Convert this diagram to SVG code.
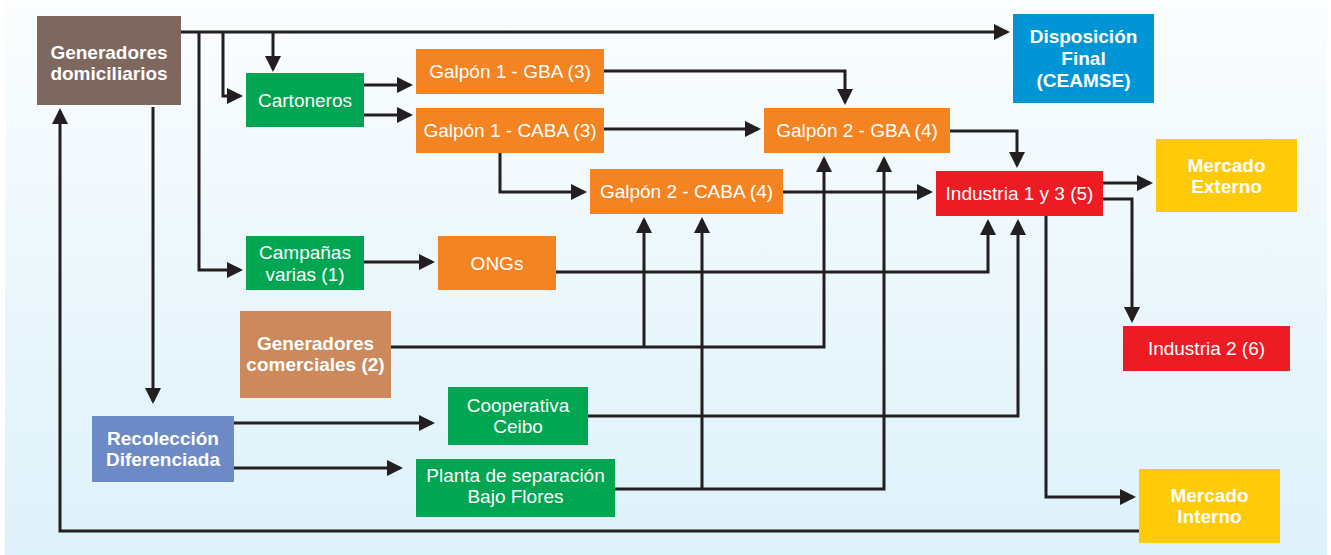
<svg xmlns="http://www.w3.org/2000/svg" width="1331" height="555" viewBox="0 0 1331 555">
<defs>
<linearGradient id="bg" x1="0" y1="0" x2="0" y2="1">
<stop offset="0" stop-color="#fbfdfe"/>
<stop offset="1" stop-color="#ddf1fa"/>
</linearGradient>
<marker id="ah" markerUnits="userSpaceOnUse" markerWidth="16" markerHeight="16" refX="13" refY="8" orient="auto">
<path d="M0,0 L16,8 L0,16 z" fill="#231f20"/>
</marker>
<style>
.c path{fill:none;stroke:#231f20;stroke-width:3;stroke-linejoin:miter}
.a{marker-end:url(#ah)}
.t{font-family:"Liberation Sans",Arial,sans-serif;font-size:19px;fill:#ffffff;text-anchor:middle}
.b{font-family:"Liberation Sans",Arial,sans-serif;font-size:19px;font-weight:bold;fill:#ffffff;text-anchor:middle}
</style>
</defs>
<rect x="0" y="0" width="1331" height="555" fill="#ffffff"/>
<rect x="5" y="0" width="1322" height="555" fill="url(#bg)"/>

<g class="c" id="connectors">
<path class="a" d="M181,32 H1007"/>
<path class="a" d="M273,32 V69"/>
<path class="a" d="M223,32 V96 H240"/>
<path class="a" d="M199,32 V270 H240"/>
<path class="a" d="M364,85 H410"/>
<path class="a" d="M364,115 H410"/>
<path class="a" d="M604,71 H845 V102"/>
<path class="a" d="M604,129 H758"/>
<path class="a" d="M500,153 V192 H584"/>
<path class="a" d="M783,192 H930"/>
<path class="a" d="M950,131 H1017 V165"/>
<path class="a" d="M1103,183 H1150"/>
<path class="a" d="M1103,199 H1132 V320"/>
<path class="a" d="M1046,216 V497 H1133"/>
<path class="a" d="M1139,531 H60 V111"/>
<path class="a" d="M153,107 V401"/>
<path class="a" d="M364,262 H432"/>
<path class="a" d="M556,272 H988 V222"/>
<path class="a" d="M391,347 H824 V159"/>
<path class="a" d="M644,347 V220"/>
<path class="a" d="M588,416 H1018 V222"/>
<path class="a" d="M234,423 H432"/>
<path class="a" d="M234,468 H400"/>
<path class="a" d="M615,489 H884 V159"/>
<path class="a" d="M702,489 V220"/>
</g>

<g id="gen-dom"><rect x="37" y="16" width="144" height="89" fill="#7d675f"/><text class="b" x="109" y="59">Generadores</text><text class="b" x="109" y="80">domiciliarios</text></g>
<g id="disposicion"><rect x="1013" y="14" width="141" height="89" fill="#0096d6"/><text class="b" x="1083.5" y="43">Disposición</text><text class="b" x="1083.5" y="65">Final</text><text class="b" x="1083.5" y="87">(CEAMSE)</text></g>
<g id="cartoneros"><rect x="246" y="73" width="118" height="54" fill="#00a651"/><text class="t" x="305" y="107">Cartoneros</text></g>
<g id="galpon1-gba"><rect x="416" y="49" width="188" height="45" fill="#f48322"/><text class="t" x="510" y="78">Galpón 1 - GBA (3)</text></g>
<g id="galpon1-caba"><rect x="416" y="108" width="188" height="45" fill="#f48322"/><text class="t" x="510" y="137">Galpón 1 - CABA (3)</text></g>
<g id="galpon2-gba"><rect x="764" y="108" width="186" height="45" fill="#f48322"/><text class="t" x="857" y="137">Galpón 2 - GBA (4)</text></g>
<g id="galpon2-caba"><rect x="590" y="169" width="193" height="45" fill="#f48322"/><text class="t" x="686.5" y="198">Galpón 2 - CABA (4)</text></g>
<g id="industria13"><rect x="936" y="171" width="167" height="45" fill="#ed1c24"/><text class="t" x="1019.5" y="200">Industria 1 y 3 (5)</text></g>
<g id="mercado-externo"><rect x="1156" y="139" width="141" height="73" fill="#ffca08"/><text class="b" x="1226.5" y="172">Mercado</text><text class="b" x="1226.5" y="193">Externo</text></g>
<g id="campanas"><rect x="246" y="236" width="118" height="54" fill="#00a651"/><text class="t" x="305" y="259">Campañas</text><text class="t" x="305" y="281">varias (1)</text></g>
<g id="ongs"><rect x="438" y="236" width="118" height="54" fill="#f48322"/><text class="t" x="497" y="270">ONGs</text></g>
<g id="gen-com"><rect x="240" y="311" width="151" height="87" fill="#cc8a5c"/><text class="b" x="315.5" y="350">Generadores</text><text class="b" x="315.5" y="371">comerciales (2)</text></g>
<g id="industria2"><rect x="1123" y="326" width="167" height="45" fill="#ed1c24"/><text class="t" x="1206.5" y="355">Industria 2 (6)</text></g>
<g id="cooperativa"><rect x="448" y="387" width="140" height="58" fill="#00a651"/><text class="t" x="518" y="412">Cooperativa</text><text class="t" x="518" y="433">Ceibo</text></g>
<g id="recoleccion"><rect x="92" y="416" width="142" height="66" fill="#6d89c6"/><text class="b" x="163" y="445">Recolección</text><text class="b" x="163" y="466">Diferenciada</text></g>
<g id="planta"><rect x="416" y="459" width="199" height="58" fill="#00a651"/><text class="t" x="515.5" y="482">Planta de separación</text><text class="t" x="515.5" y="503">Bajo Flores</text></g>
<g id="mercado-interno"><rect x="1139" y="469" width="141" height="74" fill="#ffca08"/><text class="b" x="1209.5" y="502">Mercado</text><text class="b" x="1209.5" y="523">Interno</text></g>
</svg>
